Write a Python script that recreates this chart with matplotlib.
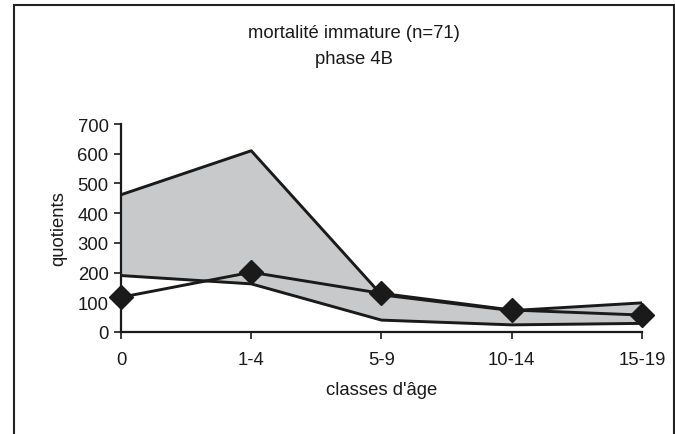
import matplotlib.pyplot as plt
from matplotlib.patches import Rectangle

plt.rcParams['font.family'] = ['Liberation Sans', 'DejaVu Sans']

# data
classes = ['0', '1-4', '5-9', '10-14', '15-19']
upper = [462, 610, 125, 72, 98]
lower = [190, 162, 40, 24, 29]
mean = [117, 201, 130, 74, 57]
yticks = [0, 100, 200, 300, 400, 500, 600, 700]

fig = plt.figure(figsize=(6.75, 4.35), dpi=100)
ax = fig.add_axes([0.1793, 0.2345, 0.7717, 0.4781])

fs = 13.3
x = list(range(len(classes)))
ax.fill_between(x, lower, upper, color='#c8c9cb', zorder=1)
ax.plot(x, upper, color='#1a1a1a', lw=2.1, zorder=2)
ax.plot(x, lower, color='#1a1a1a', lw=2.1, zorder=2)
ax.plot([x[-1], x[-1]], [lower[-1], upper[-1]], color='#1a1a1a', lw=2.1, zorder=2)
ax.plot(x, mean, color='#1a1a1a', lw=2.1, marker='D', ms=12.5,
        mfc='#1a1a1a', mec='#1a1a1a', zorder=3, clip_on=False)

ax.set_xlim(0, 4)
ax.set_ylim(0, 700)
ax.set_xticks(x)
ax.set_xticklabels(classes)
ax.set_yticks(yticks)
for s in ['top', 'right']:
    ax.spines[s].set_visible(False)
for s in ['left', 'bottom']:
    ax.spines[s].set_linewidth(1.6)
    ax.spines[s].set_color('#1a1a1a')
ax.tick_params(axis='both', labelsize=fs, length=5, width=1.2,
               color='#1a1a1a', labelcolor='#1a1a1a')
ax.tick_params(axis='x', pad=9)
ax.tick_params(axis='y', pad=4)

ax.set_ylabel('quotients', fontsize=fs, color='#1a1a1a', labelpad=7)
ax.set_xlabel("classes d'âge", fontsize=fs, color='#1a1a1a', labelpad=9)

fig.text(354 / 675, 1 - 33 / 435, 'mortalité immature (n=71)', ha='center',
         va='center', fontsize=fs, color='#1a1a1a')
fig.text(354 / 675, 1 - 60 / 435, 'phase 4B', ha='center', va='center',
         fontsize=fs, color='#1a1a1a')

# outer frame
fig.patches.append(Rectangle((13.5 / 675, -0.1), 660 / 675, 1.1 - 6 / 435,
                             transform=fig.transFigure, fill=False,
                             edgecolor='#222222', lw=1.5))

fig.savefig('out.png', dpi=100)
